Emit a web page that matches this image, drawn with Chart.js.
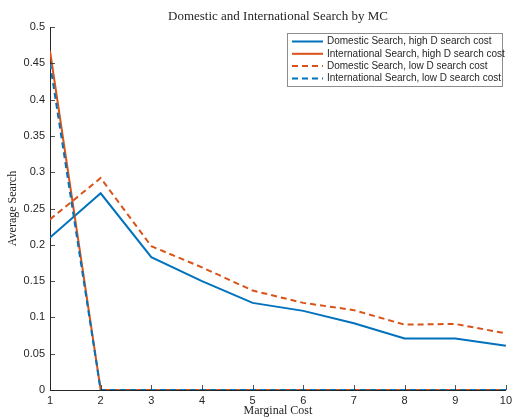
<!DOCTYPE html>
<html>
<head>
<meta charset="utf-8">
<script src="https://cdn.jsdelivr.net/npm/chart.js@4"></script>
<style>
  html, body { margin: 0; padding: 0; background: #fff; }
  #wrap { width: 516px; height: 418px; }
</style>
</head>
<body>
<div id="wrap"><canvas id="mcChart" width="516" height="418"></canvas></div>
<script>
// Marginal cost values on the x axis
const marginalCost = [1, 2, 3, 4, 5, 6, 7, 8, 9, 10];

// Average search
const domesticHigh = [0.210, 0.271, 0.183, 0.150, 0.120, 0.109, 0.092, 0.071, 0.071, 0.061];
const internationalHigh = [0.467, 0, 0, 0, 0, 0, 0, 0, 0, 0];
const domesticLow = [0.235, 0.292, 0.198, 0.169, 0.137, 0.120, 0.110, 0.090, 0.091, 0.078];
const internationalLow = [0.450, 0, 0, 0, 0, 0, 0, 0, 0, 0];

const seriesNames = [
    'Domestic Search, high D search cost',
    'International Search, high D search cost',
    'Domestic Search, low D search cost',
    'International Search, low D search cost'
];

const chartTitle = 'Domestic and International Search by MC';

const blue = '#0072BD';
const orange = '#D95319';
const axisColor = '#262626';

function toPoints(values) {
    return marginalCost.map((x, i) => ({ x: x, y: values[i] }));
}

function makeSet(label, values, color, dashed, order) {
    return {
        label: label,
        data: toPoints(values),
        borderColor: color,
        backgroundColor: color,
        borderWidth: 2,
        borderDash: dashed ? [6, 4] : [],
        pointRadius: 0,
        tension: 0,
        fill: false,
        order: order
    };
}

// Inward tick marks, MATLAB style
const innerTicks = {
    id: 'innerTicks',
    afterDraw(chart) {
        const { ctx, chartArea, scales } = chart;
        ctx.save();
        ctx.strokeStyle = axisColor;
        ctx.lineWidth = 0.8;
        ctx.beginPath();
        scales.x.ticks.forEach(t => {
            const px = Math.round(scales.x.getPixelForValue(t.value)) + 0.5;
            ctx.moveTo(px, chartArea.bottom);
            ctx.lineTo(px, chartArea.bottom - 5);
        });
        scales.y.ticks.forEach(t => {
            const py = Math.round(scales.y.getPixelForValue(t.value)) + 0.5;
            ctx.moveTo(chartArea.left, py);
            ctx.lineTo(chartArea.left + 5, py);
        });
        ctx.stroke();
        ctx.restore();
    }
};

// Title centred over the plot area rather than the canvas
const plotTitle = {
    id: 'plotTitle',
    afterDraw(chart) {
        const { ctx, chartArea } = chart;
        ctx.save();
        ctx.font = '13px "Liberation Serif", "DejaVu Serif", serif';
        ctx.fillStyle = axisColor;
        ctx.textAlign = 'center';
        ctx.textBaseline = 'middle';
        ctx.fillText(chartTitle, (chartArea.left + chartArea.right) / 2, 17);
        ctx.restore();
    }
};

// Legend box drawn in the upper right of the plot
const boxLegend = {
    id: 'boxLegend',
    afterDraw(chart) {
        const ctx = chart.ctx;
        const x0 = 287, y0 = 33, w = 215, h = 53;
        ctx.save();
        ctx.fillStyle = '#fff';
        ctx.fillRect(x0, y0, w, h);
        ctx.strokeStyle = '#8c8c8c';
        ctx.lineWidth = 1;
        ctx.strokeRect(x0 + 0.5, y0 + 0.5, w, h);
        ctx.font = '10px "Liberation Sans", Arial, sans-serif';
        ctx.textBaseline = 'middle';
        chart.data.datasets.forEach((ds, i) => {
            const y = y0 + 8.5 + i * 12.3;
            ctx.strokeStyle = ds.borderColor;
            ctx.lineWidth = ds.borderWidth;
            ctx.setLineDash(ds.borderDash);
            ctx.beginPath();
            ctx.moveTo(292, y);
            ctx.lineTo(323, y);
            ctx.stroke();
            ctx.setLineDash([]);
            ctx.fillStyle = axisColor;
            ctx.fillText(ds.label, 327, y);
        });
        ctx.restore();
    }
};

const ctx = document.getElementById('mcChart').getContext('2d');

new Chart(ctx, {
    type: 'line',
    data: {
        datasets: [
            makeSet(seriesNames[0], domesticHigh, blue, false, 3),
            makeSet(seriesNames[1], internationalHigh, orange, false, 2),
            makeSet(seriesNames[2], domesticLow, orange, true, 1),
            makeSet(seriesNames[3], internationalLow, blue, true, 0)
        ]
    },
    options: {
        responsive: false,
        animation: false,
        layout: { padding: { left: 0, right: 7, top: 27, bottom: 0 } },
        scales: {
            x: {
                type: 'linear',
                min: 1,
                max: 10,
                ticks: {
                    stepSize: 1,
                    color: axisColor,
                    padding: 4,
                    maxRotation: 0,
                    font: { family: '"Liberation Sans", Arial, sans-serif', size: 11 }
                },
                grid: { display: true, drawOnChartArea: false, drawTicks: false, color: axisColor },
                border: { color: axisColor, width: 1 },
                title: {
                    display: true,
                    text: 'Marginal Cost',
                    color: axisColor,
                    padding: { top: 2, bottom: 0 },
                    font: { family: '"Liberation Serif", "DejaVu Serif", serif', size: 12 }
                },
                afterFit(scale) { scale.height = 28; }
            },
            y: {
                min: 0,
                max: 0.5,
                ticks: {
                    stepSize: 0.05,
                    color: axisColor,
                    padding: 5,
                    font: { family: '"Liberation Sans", Arial, sans-serif', size: 11 },
                    callback: function(value) {
                        return String(parseFloat(value.toFixed(2)));
                    }
                },
                grid: { display: true, drawOnChartArea: false, drawTicks: false, color: axisColor },
                border: { color: axisColor, width: 1 },
                title: {
                    display: true,
                    text: 'Average Search',
                    color: axisColor,
                    padding: { top: 6, bottom: 0 },
                    font: { family: '"Liberation Serif", "DejaVu Serif", serif', size: 12 }
                },
                afterFit(scale) { scale.width = 50; }
            }
        },
        plugins: {
            legend: { display: false },
            tooltip: { enabled: false },
            title: { display: false }
        }
    },
    plugins: [innerTicks, plotTitle, boxLegend]
});
</script>
</body>
</html>
